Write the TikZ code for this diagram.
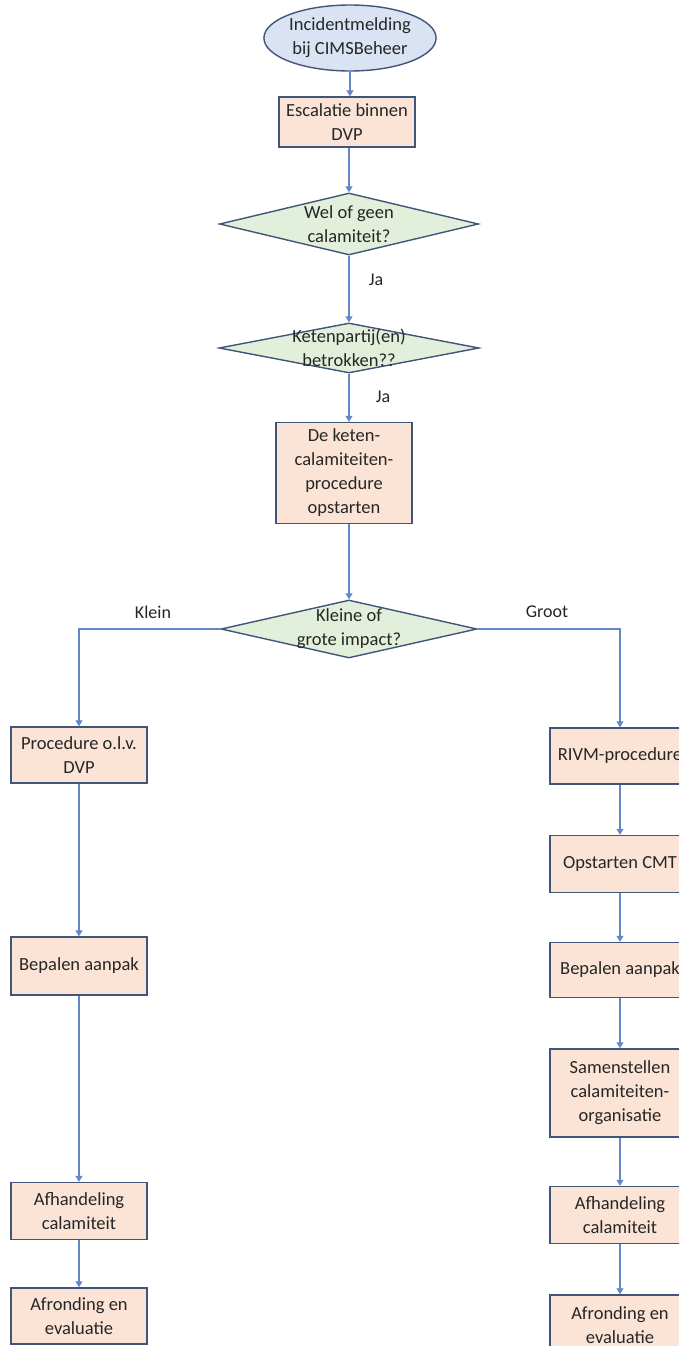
\documentclass[tikz,border=0pt]{standalone}
\usepackage{fontspec}
\setmainfont{Carlito}
\usetikzlibrary{shapes.geometric,arrows.meta}
\definecolor{boxfill}{RGB}{251,228,214}
\definecolor{dfill}{RGB}{226,239,218}
\definecolor{efill}{RGB}{218,227,243}
\definecolor{edge}{RGB}{65,85,122}
\definecolor{conn}{RGB}{100,135,200}
\tikzset{
  stepbox/.style={draw=edge, line width=1.4pt, fill=boxfill, minimum width=136pt, inner sep=0pt, align=center, font=\fontsize{18.5}{24}\selectfont, text=black!85},
  decide/.style={diamond, draw=edge, line width=1.4pt, fill=dfill, inner sep=0pt},
  dtext/.style={align=center, font=\fontsize{18.5}{24}\selectfont, text=black!85},
  conn/.style={draw=conn, line width=1.1pt, -{Triangle[width=7pt,length=6pt]}},
  lbl/.style={font=\fontsize{18}{20}\selectfont, text=black!85}
}
\begin{document}
\begin{tikzpicture}[x=1pt,y=-1pt]
\useasboundingbox (0,0) rectangle (679,1346);
\clip (0,0) rectangle (679,1346);
\fill[white] (0,0) rectangle (679,1346);
% top chain
\node[ellipse, draw=edge, line width=1.4pt, fill=efill, minimum width=140pt, minimum height=66pt, inner sep=0pt, align=center, font=\fontsize{18.5}{24}\selectfont, text=black!85] (e) at (350,38) {Incidentmelding\\bij CIMSBeheer};
\node[stepbox, minimum height=50pt] (b1) at (347,122) {Escalatie binnen\\DVP};
\node[decide, minimum width=259pt, minimum height=62pt] (d1) at (349,224) {};
\node[dtext] at (d1.center) {Wel of geen\\calamiteit?};
\node[decide, minimum width=260pt, minimum height=50pt] (d2) at (349,348) {};
\node[dtext] at (d2.center) {Ketenpartij(en)\\betrokken??};
\node[stepbox, minimum height=101pt] (b2) at (344,473) {De keten-\\calamiteiten-\\procedure\\opstarten};
\node[decide, minimum width=256pt, minimum height=58pt] (d3) at (349,629) {};
\node[dtext] at (d3.center) {Kleine of\\grote impact?};
% left column
\node[stepbox, minimum height=56pt] (l1) at (79,755) {Procedure o.l.v.\\DVP};
\node[stepbox, minimum height=58pt] (l2) at (79,966) {Bepalen aanpak};
\node[stepbox, minimum height=57pt] (l3) at (79,1211) {Afhandeling\\calamiteit};
\node[stepbox, minimum height=56pt] (l4) at (79,1316) {Afronding en\\evaluatie};
% right column
\node[stepbox, minimum width=140pt, minimum height=56pt] (r1) at (620,756) {RIVM-procedure};
\node[stepbox, minimum width=140pt, minimum height=57pt] (r2) at (620,864) {Opstarten CMT};
\node[stepbox, minimum width=140pt, minimum height=55pt] (r3) at (620,970) {Bepalen aanpak};
\node[stepbox, minimum width=140pt, minimum height=88pt] (r4) at (620,1093) {Samenstellen\\calamiteiten-\\organisatie};
\node[stepbox, minimum width=140pt, minimum height=57pt] (r5) at (620,1215) {Afhandeling\\calamiteit};
\node[stepbox, minimum width=140pt, minimum height=60pt] (r6) at (620,1325) {Afronding en\\evaluatie};
% connectors
\draw[conn] (e.south) -- (e.south |- b1.north);
\draw[conn] (b1.south -| d1.north) -- (d1.north);
\draw[conn] (d1.south) -- (d2.north);
\node[lbl] at (376,280) {Ja};
\draw[conn] (d2.south) -- (d2.south |- b2.north);
\node[lbl] at (383,397) {Ja};
\draw[conn] (b2.south -| d3.north) -- (d3.north);
\draw[conn] (d3.west) -| (l1.north);
\draw[conn] (d3.east) -| (r1.north);
\node[lbl] at (153,612) {Klein};
\node[lbl] at (547,612) {Groot};
\draw[conn] (l1) -- (l2);
\draw[conn] (l2) -- (l3);
\draw[conn] (l3) -- (l4);
\draw[conn] (r1) -- (r2);
\draw[conn] (r2) -- (r3);
\draw[conn] (r3) -- (r4);
\draw[conn] (r4) -- (r5);
\draw[conn] (r5) -- (r6);
\end{tikzpicture}
\end{document}
